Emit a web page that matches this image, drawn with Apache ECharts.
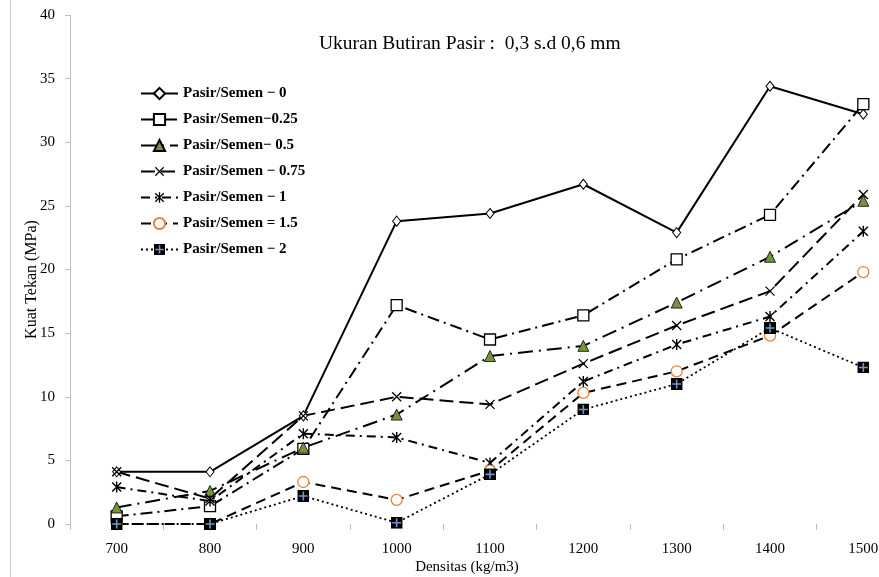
<!DOCTYPE html>
<html>
<head>
<meta charset="utf-8">
<script src="https://cdn.jsdelivr.net/npm/echarts@6/dist/echarts.min.js"></script>
<style>
  html, body { margin: 0; padding: 0; background: #fff; }
  #chart { width: 879px; height: 577px; }
</style>
</head>
<body>
<div id="chart"></div>
<script>
// Density categories (kg/m3)
const densitas = ['700', '800', '900', '1000', '1100', '1200', '1300', '1400', '1500'];

// Compressive strength (MPa) for each sand/cement ratio
const rasio0    = [4.1, 4.1, 8.5, 23.8, 24.4, 26.7, 22.9, 34.4, 32.2];
const rasio025  = [0.6, 1.4, 5.9, 17.2, 14.5, 16.4, 20.8, 24.3, 33.0];
const rasio05   = [1.3, 2.6, 6.0, 8.6, 13.2, 14.0, 17.4, 21.0, 25.4];
const rasio075  = [4.1, 2.0, 8.5, 10.0, 9.4, 12.6, 15.6, 18.3, 25.9];
const rasio1    = [2.9, 1.8, 7.1, 6.8, 4.8, 11.2, 14.1, 16.3, 23.0];
const rasio15   = [0, 0, 3.3, 1.9, 4.2, 10.3, 12.0, 14.8, 19.8];
const rasio2    = [0, 0, 2.2, 0.1, 3.9, 9.0, 11.0, 15.4, 12.3];

const seriesNames = [
  'Pasir/Semen \u2212 0',
  'Pasir/Semen\u22120.25',
  'Pasir/Semen\u2212 0.5',
  'Pasir/Semen \u2212 0.75',
  'Pasir/Semen \u2212 1',
  'Pasir/Semen = 1.5',
  'Pasir/Semen \u2212 2'
];

const yTicks = { min: 0, max: 40, interval: 5 };

// Marker glyphs drawn as small inline SVGs
function svgSymbol(body, w, h) {
  const svg = "<svg xmlns='http://www.w3.org/2000/svg' width='" + w + "' height='" + h +
    "' viewBox='0 0 " + w + " " + h + "'>" + body + "</svg>";
  return 'image://data:image/svg+xml;charset=utf-8,' + encodeURIComponent(svg);
}
const symCross = svgSymbol("<path d='M1.5 1.5L10.5 10.5M10.5 1.5L1.5 10.5' stroke='#000' stroke-width='1.3' fill='none'/>", 12, 12);
const symStar = svgSymbol("<path d='M1.5 1.5L10.5 10.5M10.5 1.5L1.5 10.5M6 0.5L6 11.5' stroke='#000' stroke-width='1.4' fill='none'/>", 12, 12);
const symBoxPlus = svgSymbol("<rect x='0' y='0' width='12' height='12' fill='#000'/><path d='M6 1.5L6 10.5M1.5 6L10.5 6' stroke='#6f95cc' stroke-width='1.6'/>", 12, 12);

const serif = 'Liberation Serif';

function lineSeries(name, data, lineType, width, symbol, size, itemStyle) {
  return {
    name: name,
    type: 'line',
    data: data,
    symbol: symbol,
    symbolSize: size,
    showAllSymbol: true,
    lineStyle: { color: '#000', width: width, type: lineType },
    itemStyle: itemStyle,
    emphasis: { disabled: true },
    animation: false
  };
}

const series = [
  lineSeries(seriesNames[0], rasio0, 'solid', 2, 'diamond', [8, 10],
    { color: '#fff', borderColor: '#000', borderWidth: 1 }),
  lineSeries(seriesNames[1], rasio025, [12, 5, 2, 5], 2, 'rect', 11,
    { color: '#fff', borderColor: '#000', borderWidth: 1.3 }),
  lineSeries(seriesNames[2], rasio05, [15, 6, 2, 6], 2, 'triangle', 11,
    { color: '#77933c', borderColor: '#000', borderWidth: 0.8 }),
  lineSeries(seriesNames[3], rasio075, [14, 6], 2, symCross, 12,
    { color: '#000' }),
  lineSeries(seriesNames[4], rasio1, [9, 5, 2, 5], 2, symStar, 12,
    { color: '#000' }),
  lineSeries(seriesNames[5], rasio15, [10, 6], 2, 'circle', 11,
    { color: '#fff', borderColor: '#e8833a', borderWidth: 1.3 }),
  lineSeries(seriesNames[6], rasio2, [2, 3], 1.8, symBoxPlus, 12,
    { color: '#000' })
];

const chart = echarts.init(document.getElementById('chart'), null, { renderer: 'canvas' });

chart.setOption({
  backgroundColor: '#fff',
  animation: false,
  textStyle: { fontFamily: serif },
  title: {
    text: 'Ukuran Butiran Pasir :  0,3 s.d 0,6 mm',
    left: 314,
    top: 29,
    textStyle: { fontFamily: serif, fontSize: 19.5, fontWeight: 'normal', color: '#000' }
  },
  legend: {
    orient: 'vertical',
    left: 135,
    top: 81,
    itemWidth: 37,
    itemHeight: 14,
    itemGap: 11,
    data: seriesNames,
    textStyle: { fontFamily: serif, fontSize: 15, fontWeight: 'bold', color: '#000' }
  },
  // the plot area runs past the right edge, so the last category sits near the border
  grid: { left: 70, top: 15, bottom: 53, width: 840, outerBoundsMode: 'none', containLabel: false },
  xAxis: {
    type: 'category',
    data: densitas,
    boundaryGap: true,
    name: 'Densitas (kg/m3)',
    nameLocation: 'middle',
    nameGap: 36,
    nameMoveOverlap: false,
    nameTextStyle: { fontFamily: serif, fontSize: 15, color: '#000', padding: [0, 46, 0, 0] },
    axisLine: { show: false },
    axisTick: { show: true, length: 6, lineStyle: { color: '#bfbfbf' } },
    axisLabel: { fontFamily: serif, fontSize: 15, color: '#000', margin: 18 },
    splitLine: { show: false }
  },
  yAxis: {
    type: 'value',
    min: yTicks.min,
    max: yTicks.max,
    interval: yTicks.interval,
    name: 'Kuat Tekan (MPa)',
    nameLocation: 'middle',
    nameGap: 30,
    nameMoveOverlap: false,
    nameTextStyle: { fontFamily: serif, fontSize: 16, color: '#000', padding: [0, 20, 0, 0] },
    axisLine: { show: true, lineStyle: { color: '#bfbfbf', width: 1 } },
    axisTick: { show: true, length: 5, lineStyle: { color: '#bfbfbf' } },
    axisLabel: { fontFamily: serif, fontSize: 15, color: '#000', margin: 15 },
    splitLine: { show: false }
  },
  graphic: [{
    type: 'line',
    shape: { x1: 10.5, y1: 0, x2: 10.5, y2: 577 },
    style: { stroke: '#c8c8c8', lineWidth: 1 },
    silent: true
  }],
  series: series
});
</script>
</body>
</html>
